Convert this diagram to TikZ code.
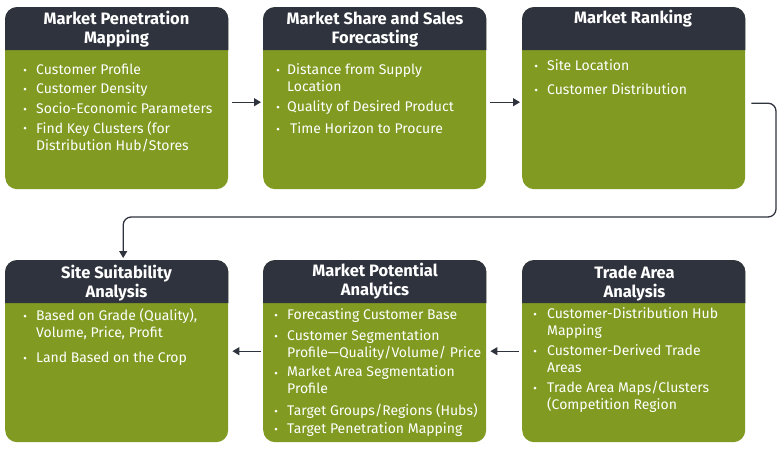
\documentclass[tikz,border=0pt]{standalone}
\usepackage{fontspec}
\setmainfont{Fira Sans}
\usetikzlibrary{arrows.meta}
\definecolor{hdr}{HTML}{2F333D}
\definecolor{grn}{HTML}{819A22}
\tikzset{
 box/.style={fill=grn, rounded corners=12pt, minimum width=223pt, minimum height=182pt, inner sep=0pt, anchor=north west},
 ttl/.style={font=\fontsize{16.5}{19}\selectfont\bfseries, text=white, align=center, anchor=base, inner sep=0pt},
 itm/.style={font=\fontsize{14}{17}\selectfont, text=white, align=left, anchor=base west, inner sep=0pt},
 dot/.style={circle, fill=white, minimum size=3pt, inner sep=0pt},
 arr/.style={draw=hdr, line width=1.3pt, -{Triangle[length=7pt,width=8pt]}},
}
\newcommand\hdrbar[1]{\fill[hdr] ([yshift=-43pt]#1.north west) [rounded corners=12pt] -- (#1.north west) -- (#1.north east) [sharp corners] -- ([yshift=-43pt]#1.north east) -- cycle;}
% name, bullet x, text x, first-line center y, last-line center y, text
\newcommand\bitem[6]{\node[dot] (d#1) at (#2,#4+1) {}; \node[itm] (t#1) at (#3,#5+5) {#6};}
\begin{document}
\begin{tikzpicture}[x=1pt,y=-1pt]
\useasboundingbox (0,0) rectangle (783,451);
% boxes
\node[box] (b1) at (5,7) {};
\node[box] (b2) at (263,7) {};
\node[box] (b3) at (522,7) {};
\node[box] (b4) at (5,260) {};
\node[box] (b5) at (263,260) {};
\node[box] (b6) at (522,260) {};
\hdrbar{b1}\hdrbar{b2}\hdrbar{b3}\hdrbar{b4}\hdrbar{b5}\hdrbar{b6}
% titles (base anchor = last line)
\node[ttl] (h1) at (116.5,43.5) {Market Penetration\\Mapping};
\node[ttl] (h2) at (375,43.5) {Market Share and Sales\\Forecasting};
\node[ttl] (h3) at (633,23.5) {Market Ranking};
\node[ttl] (h4) at (116.5,297.5) {Site Suitability\\Analysis};
\node[ttl] (h5) at (375,295.5) {Market Potential\\Analytics};
\node[ttl] (h6) at (634.5,297.5) {Trade Area\\Analysis};
% items box 1
\bitem{11}{25}{36}{69}{69}{Customer Profile}
\bitem{12}{25}{36}{88}{88}{Customer Density}
\bitem{13}{25}{36}{108}{108}{Socio-Economic Parameters}
\bitem{14}{25}{36}{127}{145}{Find Key Clusters (for\\Distribution Hub/Stores}
% box 2
\bitem{21}{278}{287}{69}{86}{Distance from Supply\\Location}
\bitem{22}{278}{287}{106}{106}{Quality of Desired Product}
\bitem{23}{278}{290}{128}{128}{Time Horizon to Procure}
% box 3
\bitem{31}{536}{547}{65}{65}{Site Location}
\bitem{32}{536}{547}{89}{89}{Customer Distribution}
% box 4
\bitem{41}{25}{36}{315}{332}{Based on Grade (Quality),\\Volume, Price, Profit}
\bitem{42}{25}{36}{357}{357}{Land Based on the Crop}
% box 5
\bitem{51}{276}{287}{314}{314}{Forecasting Customer Base}
\bitem{52}{276}{287}{335}{352}{Customer Segmentation\\Profile---Quality/Volume/ Price}
\bitem{53}{276}{287}{372}{388}{Market Area Segmentation\\Profile}
\bitem{54}{276}{287}{410}{410}{Target Groups/Regions (Hubs)}
\bitem{55}{276}{287}{428}{428}{Target Penetration Mapping}
% box 6
\bitem{61}{535}{547}{313}{330}{Customer-Distribution Hub\\Mapping}
\bitem{62}{535}{547}{350}{367}{Customer-Derived Trade\\Areas}
\bitem{63}{535}{547}{387}{404}{Trade Area Maps/Clusters\\(Competition Region}
% connectors
\draw[arr] ([xshift=4pt,yshift=-4pt]b1.east) -- ([xshift=-2pt,yshift=-4pt]b2.west);
\draw[arr] ([xshift=4pt,yshift=-4pt]b2.east) -- ([xshift=-2pt,yshift=-4pt]b3.west);
\coordinate (turn) at (776,217);
\draw[arr, rounded corners=8pt] ([xshift=6pt,yshift=-5pt]b3.east) -| (turn) -| ([xshift=6.5pt,yshift=2pt]b4.north);
\draw[arr] ([xshift=-3pt]b6.west) -- ([xshift=4pt]b5.east);
\draw[arr] ([xshift=-2pt]b5.west) -- ([xshift=4pt]b4.east);
\end{tikzpicture}
\end{document}
